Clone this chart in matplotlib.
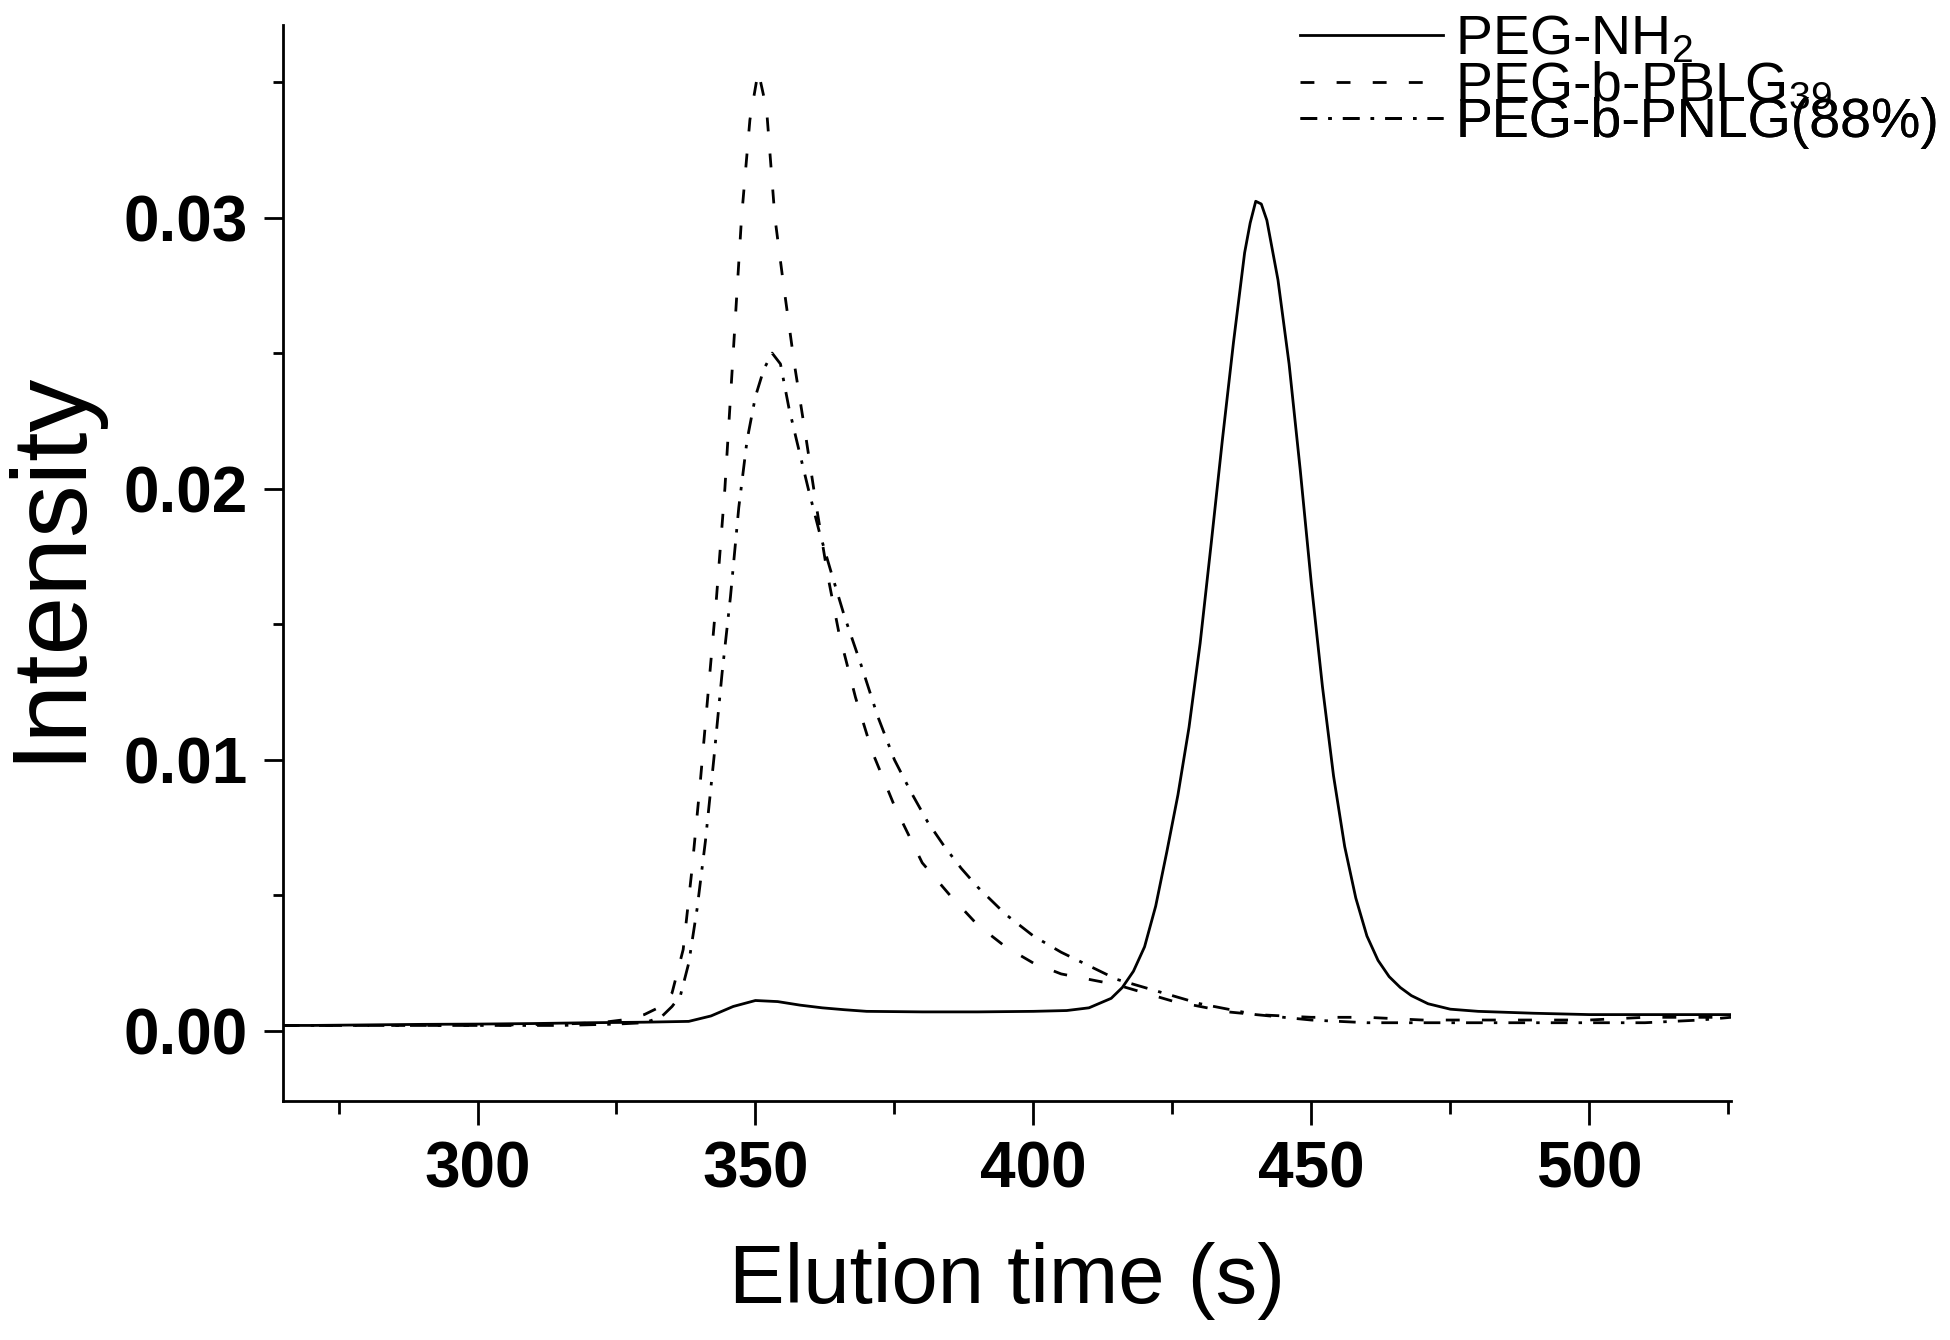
import matplotlib
matplotlib.use("Agg")
import matplotlib.pyplot as plt
from matplotlib.ticker import MultipleLocator, FormatStrFormatter

# PEG-NH2 (solid line)
t_nh2 = [265, 270, 280, 290, 300, 310, 320, 330, 338, 342, 346, 350, 354, 358,
         362, 366, 370, 380, 390, 400, 406, 410, 414, 416, 418, 420, 422, 424,
         426, 428, 430, 432, 434, 436, 438, 439, 440, 441, 442, 444, 446, 448,
         450, 452, 454, 456, 458, 460, 462, 464, 466, 468, 471, 475, 480, 490,
         500, 510, 520, 525.5]
i_nh2 = [0.00020, 0.00020, 0.00022, 0.00024, 0.00025, 0.00027, 0.00030, 0.00032,
         0.00035, 0.00055, 0.00090, 0.00112, 0.00108, 0.00095, 0.00085, 0.00078,
         0.00072, 0.00070, 0.00070, 0.00072, 0.00075, 0.00085, 0.0012, 0.0016,
         0.0022, 0.0031, 0.0046, 0.0066, 0.0087, 0.0112, 0.0143, 0.0180, 0.0218,
         0.0254, 0.0287, 0.0298, 0.0306, 0.0305, 0.0299, 0.0277, 0.0246, 0.0207,
         0.0165, 0.0127, 0.0094, 0.0068, 0.0049, 0.0035, 0.0026, 0.0020, 0.0016,
         0.0013, 0.0010, 0.0008, 0.00072, 0.00065, 0.00060, 0.00060, 0.00060,
         0.00060]

# PEG-b-PBLG39 (dashed line)
t_pblg = [265, 280, 300, 315, 322, 326, 330, 333, 335, 337, 338.5, 340, 341.5,
          343, 344.5, 346, 347.5, 349, 350.5, 352, 353.5, 355, 357, 359, 361,
          363, 365, 368, 371, 375, 380, 385, 390, 395, 400, 405, 410, 415, 420,
          425, 430, 435, 440, 450, 460, 470, 480, 490, 500, 510, 520, 525.5]
i_pblg = [0.0002, 0.0002, 0.0002, 0.00025, 0.0003, 0.0004, 0.0006, 0.0009,
          0.0014, 0.0030, 0.0058, 0.0090, 0.0125, 0.0160, 0.0200, 0.0250, 0.0300,
          0.0336, 0.0354, 0.0340, 0.0300, 0.0276, 0.0246, 0.0220, 0.0193, 0.0168,
          0.0147, 0.0123, 0.0103, 0.0083, 0.0062, 0.0050, 0.0039, 0.0031, 0.0025,
          0.0021, 0.0019, 0.0017, 0.0014, 0.0011, 0.0009, 0.0007, 0.0006, 0.0005,
          0.0005, 0.0004, 0.0004, 0.0004, 0.0004, 0.0005, 0.0005, 0.0005]

# PEG-b-PNLG(88%) (dash-dot line)
t_pnlg = [265, 280, 300, 315, 325, 330, 333, 335, 336.5, 338, 339.5, 341, 342.5,
          344, 345.5, 347, 348.5, 350, 351.5, 353, 354.5, 356, 357.5, 359.5,
          361.5, 363.5, 366, 369, 372, 375, 378, 381, 384, 387, 390, 395, 400,
          405, 410, 415, 420, 425, 430, 435, 440, 445, 450, 460, 470, 480, 490,
          500, 510, 520, 525.5]
i_pnlg = [0.0002, 0.0002, 0.0002, 0.0002, 0.00025, 0.0003, 0.0005, 0.0009,
          0.0013, 0.0025, 0.0045, 0.0070, 0.0100, 0.0132, 0.0160, 0.0193, 0.0218,
          0.0234, 0.0244, 0.0250, 0.0246, 0.0230, 0.0217, 0.0200, 0.0184, 0.0170,
          0.0153, 0.0135, 0.0116, 0.0100, 0.0088, 0.0077, 0.0068, 0.0060, 0.0053,
          0.0043, 0.0035, 0.0029, 0.0024, 0.0019, 0.0016, 0.0013, 0.0010, 0.0008,
          0.0006, 0.0005, 0.0004, 0.0003, 0.0003, 0.0003, 0.0003, 0.0003, 0.0003,
          0.0004, 0.0005]

plt.rcParams['font.family'] = ['Liberation Sans', 'DejaVu Sans']
plt.rcParams['mathtext.default'] = 'regular'
plt.rcParams['lines.scale_dashes'] = False

fig = plt.figure(figsize=(19.5, 13.4), dpi=100)
ax = fig.add_axes([0.1451, 0.1787, 0.7426, 0.8026])

l1, = ax.plot(t_nh2, i_nh2, color='black', lw=2.0, label=r'PEG-NH$_2$')
l2, = ax.plot(t_pblg, i_pblg, color='black', lw=2.0, dashes=(10, 16),
              label=r'PEG-b-PBLG$_{39}$')
l3, = ax.plot(t_pnlg, i_pnlg, color='black', lw=2.0, dashes=(12, 8, 2.5, 8),
              label='PEG-b-PNLG(88%)')

ax.set_xlim(265, 525.5)
ax.set_ylim(-0.00257, 0.0371)

ax.spines['top'].set_visible(False)
ax.spines['right'].set_visible(False)
for s in ('left', 'bottom'):
    ax.spines[s].set_linewidth(2)

ax.xaxis.set_major_locator(MultipleLocator(50))
ax.xaxis.set_minor_locator(MultipleLocator(25))
ax.yaxis.set_major_locator(MultipleLocator(0.01))
ax.yaxis.set_minor_locator(MultipleLocator(0.005))
ax.yaxis.set_major_formatter(FormatStrFormatter('%.2f'))

ax.tick_params(axis='x', which='major', direction='out', length=17, width=2, pad=12)
ax.tick_params(axis='x', which='minor', direction='out', length=9, width=2)
ax.tick_params(axis='y', which='major', direction='out', length=14, width=2, pad=11)
ax.tick_params(axis='y', which='minor', direction='out', length=7, width=2)
for lab in ax.get_xticklabels() + ax.get_yticklabels():
    lab.set_fontsize(46)
    lab.set_fontweight('bold')

ax.set_xlabel('Elution time (s)', fontsize=60, va='center')
ax.xaxis.set_label_coords(0.5, -0.168)
ax.set_ylabel('Intensity', fontsize=76, va='center')
ax.yaxis.set_label_coords(-0.161, 0.4975)

# one legend per row, tops in figure pixels, so the rows sit as tight as the original
row_tops = [14, 61, 97]
for ln, top in zip([l1, l2, l3], row_tops):
    leg = ax.legend(handles=[ln], loc='upper left',
                    bbox_to_anchor=(1300 / 1950, 1 - top / 1340),
                    bbox_transform=fig.transFigure, frameon=False, fontsize=40,
                    handlelength=2.57, handletextpad=0.22,
                    borderpad=0, borderaxespad=0)
    ax.add_artist(leg)

fig.savefig('out.png', dpi=100)
